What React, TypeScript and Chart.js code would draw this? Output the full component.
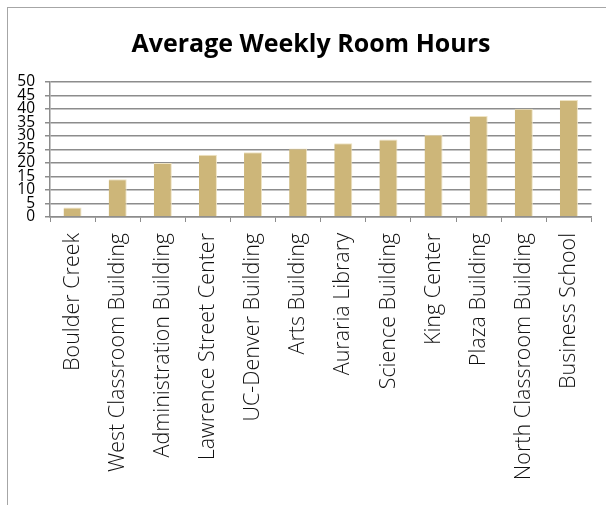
import React, { useEffect, useRef } from "react";
import { Chart, registerables } from "chart.js";

Chart.register(...registerables);

const categories = [
  "Boulder Creek",
  "West Classroom Building",
  "Administration Building",
  "Lawrence Street Center",
  "UC-Denver Building",
  "Arts Building",
  "Auraria Library",
  "Science Building",
  "King Center",
  "Plaza Building",
  "North Classroom Building",
  "Business School",
];
const hours = [3.5, 14, 20, 23.1, 24, 25.4, 27.3, 28.7, 30.5, 37.4, 40.1, 43.3];
const yMin = 0;
const yMax = 50;
const yStep = 5;
const titleText = "Average Weekly Room Hours";

const titlePlugin = {
  id: "offsetTitle",
  afterDraw(chart: any) {
    const ctx = chart.ctx;
    ctx.save();
    ctx.fillStyle = "#000";
    ctx.font = "bold 25px 'Open Sans'";
    ctx.textAlign = "center";
    ctx.textBaseline = "alphabetic";
    ctx.fillText(titleText, 311, 52);
    ctx.restore();
  },
};

export default function App() {
  const ref = useRef<HTMLCanvasElement | null>(null);
  useEffect(() => {
    if (!ref.current) return;
    const grid = "#8c8c8c";
    const chart = new Chart(ref.current, {
      type: "bar",
      data: {
        labels: categories,
        datasets: [
          {
            data: hours,
            backgroundColor: "#CDB679",
            borderColor: "#EFE4C4",
            borderWidth: { right: 1, top: 1 } as any,
            borderSkipped: "bottom",
            categoryPercentage: 0.8,
            barPercentage: 0.5,
          },
        ],
      },
      plugins: [titlePlugin],
      options: {
        animation: false,
        responsive: false,
        devicePixelRatio: 1,
        layout: { padding: { left: 0, right: 7, top: 82, bottom: 0 } },
        plugins: {
          legend: { display: false },
          tooltip: { enabled: false },
          title: { display: false },
        },
        scales: {
          x: {
            offset: true,
            afterFit: (s: any) => {
              s.height = 288;
            },
            grid: {
              offset: true,
              drawOnChartArea: false,
              drawTicks: true,
              tickLength: 5,
              color: grid,
            },
            border: { color: grid, width: 1.5 },
            ticks: {
              autoSkip: false,
              maxRotation: 90,
              minRotation: 90,
              padding: 11,
              color: "#111",
              font: { family: "'Open Sans'", size: 21.5, weight: "300" },
            },
          },
          y: {
            min: yMin,
            max: yMax,
            afterFit: (s: any) => {
              s.width = 50;
            },
            grid: { color: grid, tickLength: 5, lineWidth: 1.5 },
            border: { color: grid, width: 1.5 },
            ticks: {
              stepSize: yStep,
              autoSkip: false,
              padding: 10,
              color: "#000",
              font: { family: "'Open Sans'", size: 15.5 },
            },
          },
        },
      },
    });
    return () => chart.destroy();
  }, []);
  return (
    <div style={{ position: "fixed", left: 0, top: 0, width: 606, height: 505, background: "#fff" }}>
      <div
        style={{
          position: "absolute",
          left: 7,
          top: 7,
          width: 598,
          height: 497,
          borderLeft: "1.5px solid #a6a6a6",
          borderTop: "1.5px solid #a6a6a6",
        }}
      />
      <canvas ref={ref} width={606} height={505} style={{ position: "absolute", left: 0, top: 0, width: 606, height: 505 }} />
    </div>
  );
}
